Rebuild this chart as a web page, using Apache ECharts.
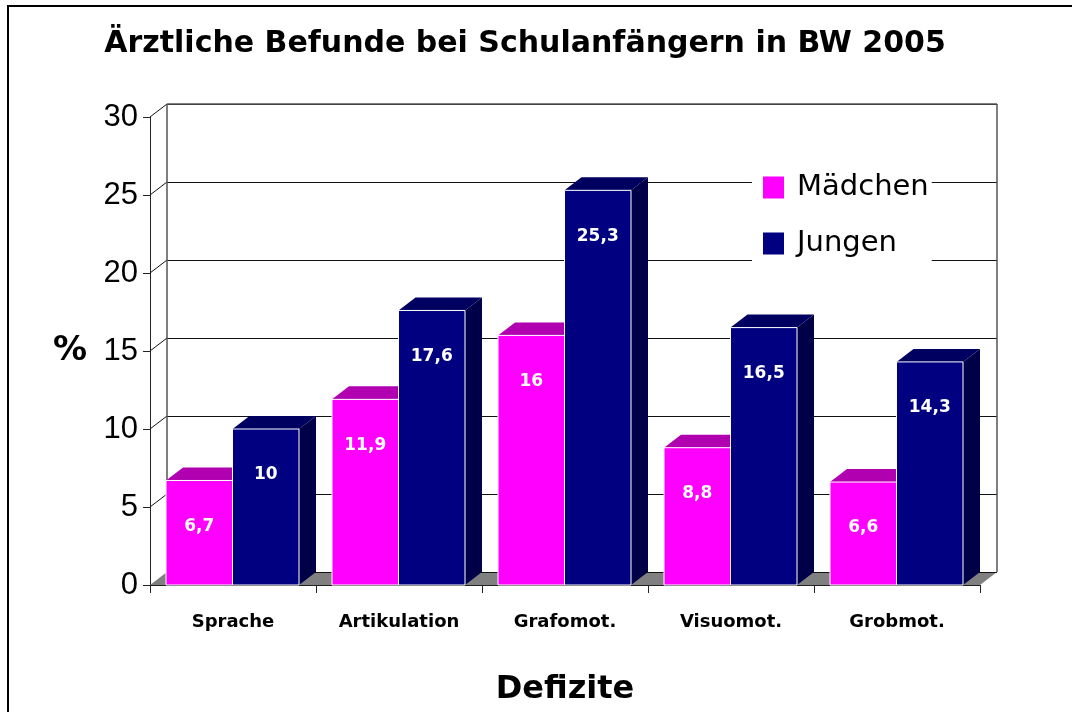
<!DOCTYPE html>
<html><head><meta charset="utf-8">
<style>html,body{margin:0;padding:0;background:#fff}#c{width:1072px;height:712px}</style>
<script src="https://cdn.jsdelivr.net/npm/echarts@6/dist/echarts.min.js"></script>
</head><body><div id="c"></div>
<script>
const categories = ['Sprache','Artikulation','Grafomot.','Visuomot.','Grobmot.'];
const maedchen = [6.7,11.9,16,8.8,6.6];
const jungen = [10,17.6,25.3,16.5,14.3];
const yTicks = [0,5,10,15,20,25,30];

const DX = 17, DY = 13, SIDE_PAD = 16, BAR_W = 66.5, LABEL_DOWN = 46;
const FONT = '"DejaVu Sans", sans-serif';

function barRenderer(slot, front, top, side) {
  return function (params, api) {
    const i = api.value(0), v = api.value(1);
    const base = api.coord([i, 0]), peak = api.coord([i, v]);
    const x = base[0] - api.size([1, 0])[0] / 2 + SIDE_PAD + slot * BAR_W;
    const y0 = base[1], y1 = peak[1], w = BAR_W;
    return { type: 'group', children: [
      { type: 'polygon', shape: { points: [[x+w,y1],[x+w+DX,y1-DY],[x+w+DX,y0-DY],[x+w,y0]] }, style: { fill: side } },
      { type: 'polygon', shape: { points: [[x,y1],[x+DX,y1-DY],[x+w+DX,y1-DY],[x+w,y1]] }, style: { fill: top } },
      { type: 'rect', shape: { x: x, y: y1, width: w, height: y0 - y1 }, style: { fill: front, stroke: '#fff', lineWidth: 1 } },
      { type: 'text', style: { text: String(v).replace('.', ','), x: x + w / 2, y: y1 + LABEL_DOWN, fill: '#fff',
          font: 'bold 17px ' + FONT, align: 'center', verticalAlign: 'middle' } }
    ]};
  };
}

function wallRenderer(params, api) {
  const cs = params.coordSys, v = api.value(1), y = api.coord([0, v])[1];
  const left = cs.x, right = cs.x + cs.width, ln = { stroke: '#111', lineWidth: 1, fill: 'none' };
  const wy = Math.round(y - DY) + 0.5;
  const kids = [];
  if (v === 0) {
    kids.push({ type: 'polygon', shape: { points: [[left,y],[left+DX,y-DY],[right+DX,y-DY],[right,y]] }, style: { fill: '#808080' } });
  } else {
    kids.push({ type: 'line', shape: { x1: left, y1: y, x2: left+DX, y2: y-DY }, style: ln });
  }
  kids.push({ type: 'line', shape: { x1: left+DX, y1: wy, x2: right+DX, y2: wy }, style: ln });
  if (v === 30) {
    const yb = api.coord([0, 0])[1] - DY;
    const st = { stroke: '#555', lineWidth: 1.5, fill: 'none' };
    kids.push({ type: 'line', shape: { x1: left+DX, y1: y-DY, x2: left+DX, y2: yb }, style: st });
    kids.push({ type: 'line', shape: { x1: right+DX, y1: y-DY, x2: right+DX, y2: yb }, style: st });
    kids.push({ type: 'line', shape: { x1: left+DX, y1: y-DY, x2: right+DX, y2: y-DY }, style: st });
  }
  return { type: 'group', children: kids };
}

const chart = echarts.init(document.getElementById('c'), null, { renderer: 'canvas' });
chart.setOption({
  animation: false,
  backgroundColor: '#fff',
  title: { text: 'Ärztliche Befunde bei Schulanfängern in BW 2005', left: 520, top: 24, textAlign: 'center',
    textStyle: { fontFamily: FONT, fontWeight: 'bold', fontSize: 30, color: '#000' } },
  legend: { data: ['Mädchen','Jungen'], orient: 'vertical', left: 752, top: 162, padding: [11, 3, 11, 11],
    backgroundColor: '#fff', icon: 'rect', itemWidth: 21, itemHeight: 22, itemGap: 27,
    textStyle: { fontFamily: FONT, fontSize: 29, color: '#000', width: 121, padding: [12, 0, 0, 8] } },
  grid: { left: 150, right: 92, top: 117, bottom: 127, outerBoundsMode: 'none' },
  xAxis: { type: 'category', data: categories,
    name: 'Defizite', nameLocation: 'middle', nameGap: 89,
    nameTextStyle: { fontFamily: FONT, fontWeight: 'bold', fontSize: 32, color: '#000' },
    axisLine: { lineStyle: { color: '#222', width: 1 } },
    axisTick: { show: true, alignWithLabel: false, length: 8, lineStyle: { color: '#222' } },
    axisLabel: { interval: 0, margin: 28, fontFamily: FONT, fontWeight: 'bold', fontSize: 18, color: '#000' } },
  yAxis: { type: 'value', min: 0, max: 30, interval: 5,
    name: '%', nameLocation: 'middle', nameRotate: 0, nameGap: 63,
    nameTextStyle: { fontFamily: FONT, fontWeight: 'bold', fontSize: 34, color: '#000' },
    axisLine: { show: true, lineStyle: { color: '#222', width: 1 } },
    axisTick: { show: true, length: 7, lineStyle: { color: '#222' } },
    splitLine: { show: false },
    axisLabel: { margin: 12, padding: [4, 0, 0, 0], fontFamily: '"Liberation Sans", sans-serif', fontSize: 31, color: '#000' } },
  series: [
    { name: 'wall', type: 'custom', silent: true, z: 1, renderItem: wallRenderer,
      data: yTicks.map(t => [0, t]) },
    { name: 'Mädchen', type: 'custom', z: 2, itemStyle: { color: '#ff00ff' },
      renderItem: barRenderer(0, '#ff00ff', '#b000b0', '#900090'),
      data: maedchen.map((v, i) => [i, v]) },
    { name: 'Jungen', type: 'custom', z: 3, itemStyle: { color: '#000080' },
      renderItem: barRenderer(1, '#000080', '#000060', '#000048'),
      data: jungen.map((v, i) => [i, v]) }
  ],
  graphic: [{ type: 'polyline', silent: true, shape: { points: [[8,712],[8,6],[1072,6]] },
    style: { stroke: '#000', lineWidth: 2, fill: 'none' } }]
});
</script></body></html>
